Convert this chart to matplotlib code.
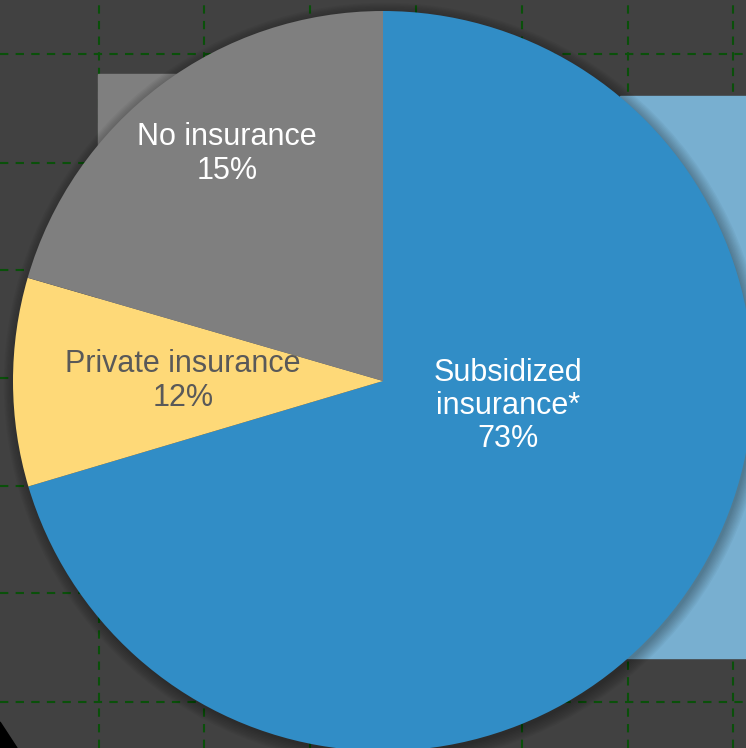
import matplotlib
matplotlib.use("Agg")
import matplotlib.pyplot as plt
from matplotlib.patches import Circle, Rectangle, Polygon

plt.rcParams['font.family'] = ['Liberation Sans', 'DejaVu Sans']

# data (shares as drawn, clockwise from 12 o'clock)
segments = ['Subsidized\ninsurance*', 'Private insurance', 'No insurance']
shares = [70.4, 9.1, 20.5]
labels = ['73%', '12%', '15%']
colors = ['#318dc6', '#fed978', '#7f7f7f']
text_colors = ['white', '#595959', 'white']

W, H = 746, 748
cx, cy, R = 383, 748 - 381, 370

fig = plt.figure(figsize=(7.46, 7.48), dpi=100, facecolor='#414141')
ax = fig.add_axes([0, 0, 1, 1])
ax.set_facecolor('#414141')

# dashed green grid
for x in [99, 204, 310, 416, 522, 628, 733]:
    ax.axvline(x, color='#0a500a', lw=1.5, ls=(0, (4, 3.5)), zorder=1)
for y in [54, 163, 270, 378, 486, 593, 702]:
    ax.axhline(748 - y, color='#0a500a', lw=1.5, ls=(0, (4, 3.5)), zorder=1)

# background blocks
ax.add_patch(Rectangle((620, 748 - 658), 140, 658 - 96, color='#78afd0', zorder=2))
ax.add_patch(Rectangle((98, cy), cx - 98, 748 - 74 - cy, color=colors[2], zorder=2))
ax.add_patch(Polygon([(0, 748 - 722), (17, 0), (0, 0)], color='black', zorder=2))

# soft shadow
for i in range(9):
    ax.add_patch(Circle((cx + 2, cy - 3), R + i * 1.4, color='black',
                        alpha=0.035, lw=0, zorder=3))

wedges, _ = ax.pie(shares, colors=colors, startangle=90, counterclock=False,
                   center=(cx, cy), radius=R,
                   wedgeprops=dict(linewidth=0))
for w in wedges:
    w.set_zorder(4)

label_pos = [(508, 406), (183, 381), (227, 154)]
for seg, lab, tc, (x, y) in zip(segments, labels, text_colors, label_pos):
    ax.text(x, 748 - y, seg + '\n' + lab, ha='center', va='center',
            color=tc, fontsize=22, linespacing=1.15, zorder=5)

ax.set_xlim(0, W)
ax.set_ylim(0, H)
ax.set_aspect('equal')
ax.axis('off')

fig.savefig('out.png', dpi=100, facecolor=fig.get_facecolor())
